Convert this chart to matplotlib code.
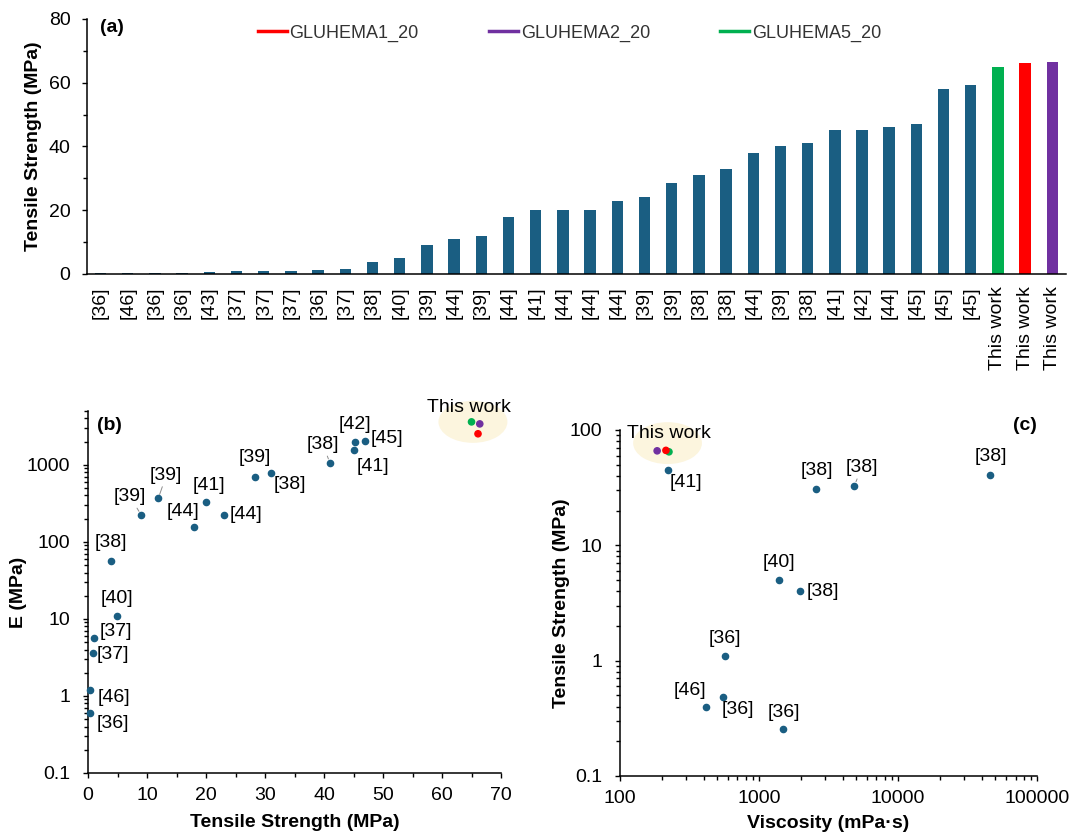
import matplotlib.pyplot as plt
from matplotlib.lines import Line2D
from matplotlib.patches import Ellipse
from matplotlib.ticker import FuncFormatter, MultipleLocator

plt.rcParams['font.family'] = ['Liberation Sans', 'DejaVu Sans']

BLUE = '#1a5e82'
GREEN = '#00b050'
RED = '#ff0000'
PURPLE = '#7030a0'
HALO = '#fcf5de'

# (a) tensile strength, literature vs this work
bar_refs = ['[36]', '[46]', '[36]', '[36]', '[43]', '[37]', '[37]', '[37]', '[36]',
            '[37]', '[38]', '[40]', '[39]', '[44]', '[39]', '[44]', '[41]', '[44]',
            '[44]', '[44]', '[39]', '[39]', '[38]', '[38]', '[44]', '[39]', '[38]',
            '[41]', '[42]', '[44]', '[45]', '[45]', '[45]']
bar_ts = [0.15, 0.35, 0.4, 0.45, 0.75, 0.85, 0.95, 1.05, 1.1,
          1.6, 3.9, 5.0, 9.1, 11.0, 11.9, 18.0, 20.0, 20.0,
          20.0, 23.0, 24.3, 28.4, 31.1, 33.0, 38.0, 40.2, 41.0,
          45.1, 45.3, 46.2, 47.1, 58.1, 59.2]
work_names = ['GLUHEMA5_20', 'GLUHEMA1_20', 'GLUHEMA2_20']
work_colors = [GREEN, RED, PURPLE]
work_ts = [64.9, 66.2, 66.5]

# (b) modulus vs tensile strength
b_refs = ['[36]', '[46]', '[37]', '[37]', '[40]', '[38]', '[39]', '[39]', '[44]',
          '[41]', '[44]', '[39]', '[38]', '[38]', '[41]', '[42]', '[45]']
b_ts = [0.3, 0.35, 0.8, 1.0, 4.9, 3.9, 9.0, 11.9, 18.0,
        20.0, 23.0, 28.3, 31.0, 41.0, 45.0, 45.2, 47.0]
b_E = [0.6, 1.2, 3.6, 5.6, 10.9, 57, 224, 366, 157,
       334, 226, 705, 794, 1062, 1535, 1950, 2010]
b_work_ts = [65.0, 66.1, 66.4]
b_work_E = [3610, 2530, 3400]

# (c) tensile strength vs viscosity
c_refs = ['[41]', '[38]', '[38]', '[38]', '[40]', '[38]', '[36]', '[36]', '[46]', '[36]']
c_visc = [220, 2590, 4860, 46200, 1400, 1986, 569, 551, 413, 1500]
c_ts = [45, 31, 32.9, 41, 4.98, 4.0, 1.09, 0.484, 0.40, 0.254]
c_work_visc = [225, 214, 185]
c_work_ts = [64.6, 66.5, 65.9]

# label offsets in pixels (dx, dy) and whether a leader line is drawn
b_offsets = [(23, -10), (24, -8), (20, -1), (22, 7), (0, 18), (0, 18), (-11, 18),
             (8, 23), (-11, 15), (3, 16), (22, 0), (0, 19), (19, -12), (-7, 18),
             (19, -16), (0, 18), (22, 3)]
b_leaders = [6, 7, 13]
c_offsets = [(18, -13), (0, 18), (7, 18), (0, 18), (0, 18), (22, 0), (0, 18),
             (15, -13), (-16, 16), (0, 17)]
c_leaders = [2]

FS = 14


def style_axes(ax):
    for side in ('top', 'right'):
        ax.spines[side].set_visible(False)
    for side in ('left', 'bottom'):
        ax.spines[side].set_linewidth(1.1)
    ax.tick_params(which='both', direction='out', labelsize=FS, width=1.0)
    ax.tick_params(which='major', length=3.8)
    ax.tick_params(which='minor', length=2.8)


def label_points(ax, xs, ys, refs, offsets, leaders):
    for i, (x, y, ref, off) in enumerate(zip(xs, ys, refs, offsets)):
        arrow = None
        if i in leaders:
            arrow = dict(arrowstyle='-', color='#8c8c8c', lw=0.7, shrinkA=0, shrinkB=3)
        ax.annotate(ref, (x, y), xytext=off, textcoords='offset pixels',
                    ha='center', va='center', fontsize=FS, arrowprops=arrow)


plain = FuncFormatter(lambda v, pos: f'{v:g}')

fig = plt.figure(figsize=(10.71, 8.35), dpi=100)

# ---- (a)
ax = fig.add_axes([0.0812, 0.6719, 0.9141, 0.3054])
names = bar_refs + ['This work'] * len(work_ts)
vals = bar_ts + work_ts
colors = [BLUE] * len(bar_ts) + work_colors
ax.bar(range(len(vals)), vals, width=0.42, color=colors, zorder=2)
ax.set_xlim(-0.5, len(vals) - 0.5)
ax.set_ylim(0, 80)
ax.set_xticks(range(len(vals)))
ax.set_xticklabels(names, rotation=90, fontsize=14)
style_axes(ax)
ax.yaxis.set_major_locator(MultipleLocator(20))
ax.yaxis.set_minor_locator(MultipleLocator(10))
ax.tick_params(axis='x', length=0, pad=9)
ax.tick_params(axis='y', labelsize=14, pad=8)
ax.set_ylabel('Tensile Strength (MPa)', fontsize=14, fontweight='bold')
ax.yaxis.set_label_coords(-0.046, 0.5)
ax.text(0.013, 0.965, '(a)', transform=ax.transAxes, fontsize=14,
        fontweight='bold', va='center')
handles = [Line2D([], [], color=c, lw=2.5) for c in (RED, PURPLE, GREEN)]
ax.legend(handles, ['GLUHEMA1_20', 'GLUHEMA2_20', 'GLUHEMA5_20'], ncol=3,
          loc='center', bbox_to_anchor=(0.493, 0.945), frameon=False,
          fontsize=13, handlelength=1.6, handletextpad=0.15, columnspacing=3.9,
          labelcolor='#333333')

# ---- (b)
ax = fig.add_axes([0.0822, 0.0743, 0.3856, 0.4335])
ax.set_yscale('log')
ax.set_xlim(0, 70)
ax.set_ylim(0.1, 5000)
ax.add_patch(Ellipse((0.932, 0.970), 0.167, 0.116, transform=ax.transAxes,
                     facecolor=HALO, edgecolor='none', clip_on=False, zorder=1))
ax.scatter(b_ts, b_E, s=20, color=BLUE, zorder=3, clip_on=False)
ax.scatter(b_work_ts, b_work_E, s=20, color=work_colors, zorder=3, clip_on=False)
label_points(ax, b_ts, b_E, b_refs, b_offsets, b_leaders)
ax.text(0.923, 1.011, 'This work', transform=ax.transAxes, fontsize=FS,
        ha='center', va='center')
style_axes(ax)
ax.xaxis.set_major_locator(MultipleLocator(10))
ax.xaxis.set_minor_locator(MultipleLocator(5))
ax.yaxis.set_major_formatter(plain)
ax.tick_params(axis='x', pad=6)
ax.tick_params(axis='y', pad=9)
ax.set_xlabel('Tensile Strength (MPa)', fontsize=14, fontweight='bold')
ax.set_ylabel('E (MPa)', fontsize=14, fontweight='bold')
ax.xaxis.set_label_coords(0.5, -0.112)
ax.yaxis.set_label_coords(-0.148, 0.5)
ax.text(0.022, 0.961, '(b)', transform=ax.transAxes, fontsize=14,
        fontweight='bold', va='center')

# ---- (c)
ax = fig.add_axes([0.5789, 0.0707, 0.3894, 0.4144])
ax.set_xscale('log')
ax.set_yscale('log')
ax.set_xlim(100, 100000)
ax.set_ylim(0.1, 100)
ax.add_patch(Ellipse((0.114, 0.962), 0.165, 0.121, transform=ax.transAxes,
                     facecolor=HALO, edgecolor='none', clip_on=False, zorder=1))
ax.scatter(c_visc, c_ts, s=20, color=BLUE, zorder=3, clip_on=False)
ax.scatter(c_work_visc, c_work_ts, s=20, color=[GREEN, RED, PURPLE], zorder=3,
           clip_on=False)
label_points(ax, c_visc, c_ts, c_refs, c_offsets, c_leaders)
ax.text(0.117, 0.991, 'This work', transform=ax.transAxes, fontsize=FS,
        ha='center', va='center')
style_axes(ax)
ax.xaxis.set_major_formatter(plain)
ax.yaxis.set_major_formatter(plain)
ax.tick_params(axis='x', pad=6)
ax.tick_params(axis='y', pad=9)
ax.set_xlabel('Viscosity (mPa·s)', fontsize=14, fontweight='bold')
ax.set_ylabel('Tensile Strength (MPa)', fontsize=14, fontweight='bold')
ax.xaxis.set_label_coords(0.5, -0.114)
ax.yaxis.set_label_coords(-0.12, 0.5)
ax.text(1.0, 1.012, '(c)', transform=ax.transAxes, fontsize=14,
        fontweight='bold', va='center', ha='right')

fig.savefig('out.png', dpi=100)
